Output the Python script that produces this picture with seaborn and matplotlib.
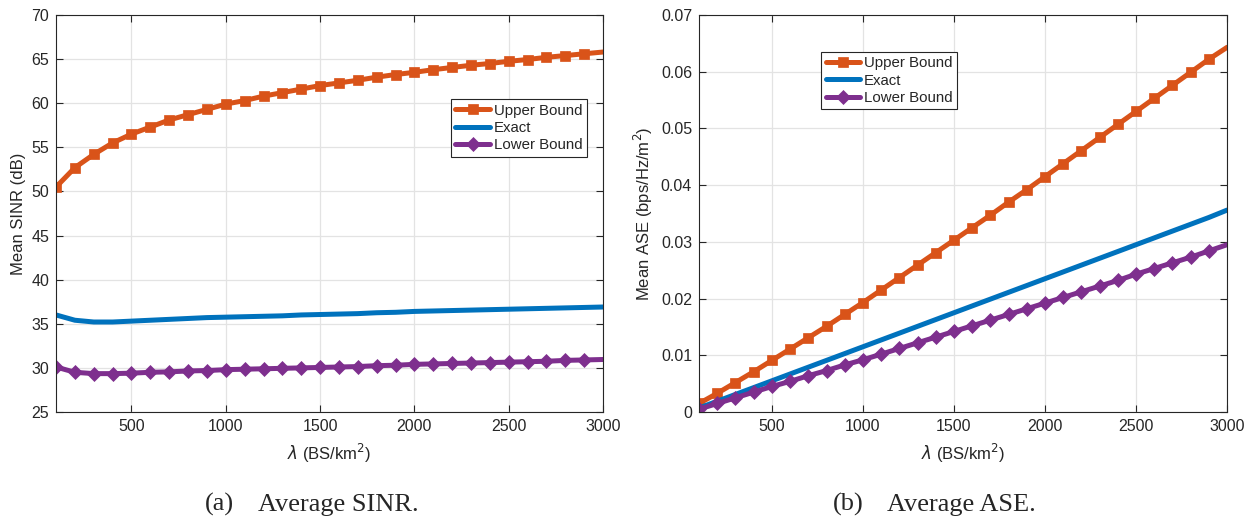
import numpy as np
import pandas as pd
import matplotlib
matplotlib.use("Agg")
import matplotlib.pyplot as plt
import seaborn as sns

# BS density (BS/km^2)
density = list(range(100, 3001, 100))

# Mean SINR (dB)
sinr_upper = [50.5, 52.7, 54.2, 55.5, 56.5, 57.3, 58.1, 58.7, 59.3, 59.9,
              60.3, 60.8, 61.2, 61.6, 62.0, 62.3, 62.6, 62.95, 63.25, 63.5,
              63.8, 64.05, 64.3, 64.5, 64.75, 64.95, 65.2, 65.4, 65.6, 65.8]
sinr_exact = [36.0, 35.4, 35.2, 35.2, 35.3, 35.4, 35.5, 35.6, 35.7, 35.75,
              35.8, 35.85, 35.9, 36.0, 36.05, 36.1, 36.15, 36.25, 36.3, 36.4,
              36.45, 36.5, 36.55, 36.6, 36.65, 36.7, 36.75, 36.8, 36.85, 36.9]
sinr_lower = [30.1, 29.5, 29.35, 29.35, 29.4, 29.5, 29.55, 29.65, 29.7, 29.8,
              29.85, 29.9, 29.95, 30.0, 30.05, 30.1, 30.15, 30.25, 30.3, 30.4,
              30.45, 30.5, 30.55, 30.6, 30.65, 30.7, 30.75, 30.85, 30.9, 30.95]

# Mean ASE (bps/Hz/m^2)
ase_upper = [0.0015, 0.0033, 0.0052, 0.0071, 0.0091, 0.0111, 0.0131, 0.0151, 0.0172, 0.0193,
             0.0215, 0.0237, 0.0259, 0.0281, 0.0303, 0.0325, 0.0347, 0.0370, 0.0392, 0.0415,
             0.0438, 0.0461, 0.0484, 0.0507, 0.0530, 0.0553, 0.0576, 0.0599, 0.0622, 0.0643]
ase_exact = [0.0007, 0.0019, 0.0031, 0.0043, 0.0055, 0.0067, 0.0079, 0.0091, 0.0103, 0.0115,
             0.0127, 0.0139, 0.0151, 0.0163, 0.0175, 0.0187, 0.0199, 0.0211, 0.0223, 0.0235,
             0.0247, 0.0259, 0.0271, 0.0283, 0.0295, 0.0307, 0.0319, 0.0331, 0.0343, 0.0356]
ase_lower = [0.0005, 0.0015, 0.0025, 0.0035, 0.0045, 0.0054, 0.0064, 0.0073, 0.0083, 0.0092,
             0.0102, 0.0112, 0.0122, 0.0132, 0.0142, 0.0152, 0.0162, 0.0172, 0.0182, 0.0192,
             0.0202, 0.0212, 0.0222, 0.0232, 0.0243, 0.0253, 0.0263, 0.0273, 0.0284, 0.0295]

labels = ["Upper Bound", "Exact", "Lower Bound"]
colors = ["#D95319", "#0072BD", "#7E2F8E"]
markers = ["s", None, "D"]
msizes = [7, 0, 7.5]

sns.set_theme(style="whitegrid")
plt.rcParams["font.family"] = ["Liberation Sans", "DejaVu Sans"]

fig = plt.figure(figsize=(12.51, 5.2), dpi=100)
ax1 = fig.add_axes([0.0448, 0.2077, 0.4372, 0.7635])
ax2 = fig.add_axes([0.5588, 0.2077, 0.4221, 0.7635])


def draw(ax, series):
    for ys, lab, c, m, ms in zip(series, labels, colors, markers, msizes):
        df = pd.DataFrame({"x": density, "y": ys})
        kw = dict(marker=m, markersize=ms, markevery=slice(0, 29),
                  markeredgecolor=c, markerfacecolor=c, markeredgewidth=0.5) if m else {}
        sns.lineplot(data=df, x="x", y="y", ax=ax, color=c, linewidth=3.6,
                     label=lab, legend=False, **kw)
    ax.set_xlim(100, 3000)
    ax.set_xticks([500, 1000, 1500, 2000, 2500, 3000])
    ax.set_xlabel(r"$\lambda$ (BS/km$^2$)", fontsize=12, color="#262626", labelpad=6)
    ax.grid(True, color="#e3e3e3", linewidth=0.9)
    ax.set_facecolor("white")
    for s in ax.spines.values():
        s.set_visible(True)
        s.set_color("#262626")
        s.set_linewidth(0.8)
    ax.tick_params(direction="in", length=5, width=0.8, color="#262626",
                   top=True, right=True, bottom=True, left=True,
                   labelsize=11.5, labelcolor="#262626", pad=5)


legend_kw = dict(loc="upper left", fontsize=10.8, frameon=True, fancybox=False,
                 handlelength=2.3, handletextpad=0.25, labelspacing=0.22,
                 borderpad=0.3, borderaxespad=0)

draw(ax1, [sinr_upper, sinr_exact, sinr_lower])
ax1.set_ylim(25, 70)
ax1.set_yticks(range(25, 71, 5))
ax1.set_ylabel("Mean SINR (dB)", fontsize=12, color="#262626")
leg1 = ax1.legend(bbox_to_anchor=(0.722, 0.788), **legend_kw)

draw(ax2, [ase_upper, ase_exact, ase_lower])
ax2.set_ylim(0, 0.07)
ax2.set_yticks([0, 0.01, 0.02, 0.03, 0.04, 0.05, 0.06, 0.07])
ax2.set_yticklabels(["0", "0.01", "0.02", "0.03", "0.04", "0.05", "0.06", "0.07"])
ax2.set_ylabel("Mean ASE (bps/Hz/m$^2$)", fontsize=12, color="#262626")
leg2 = ax2.legend(bbox_to_anchor=(0.231, 0.907), **legend_kw)

for leg in (leg1, leg2):
    fr = leg.get_frame()
    fr.set_edgecolor("#262626")
    fr.set_linewidth(0.8)
    fr.set_alpha(1)

serif = ["Liberation Serif", "DejaVu Serif"]
fig.text(0.1638, 0.029, "(a)", ha="left", va="center", fontsize=19, family=serif)
fig.text(0.2062, 0.029, "Average SINR.", ha="left", va="center", fontsize=19, family=serif)
fig.text(0.666, 0.029, "(b)", ha="left", va="center", fontsize=19, family=serif)
fig.text(0.709, 0.029, "Average ASE.", ha="left", va="center", fontsize=19, family=serif)

fig.savefig("out.png", dpi=100)
